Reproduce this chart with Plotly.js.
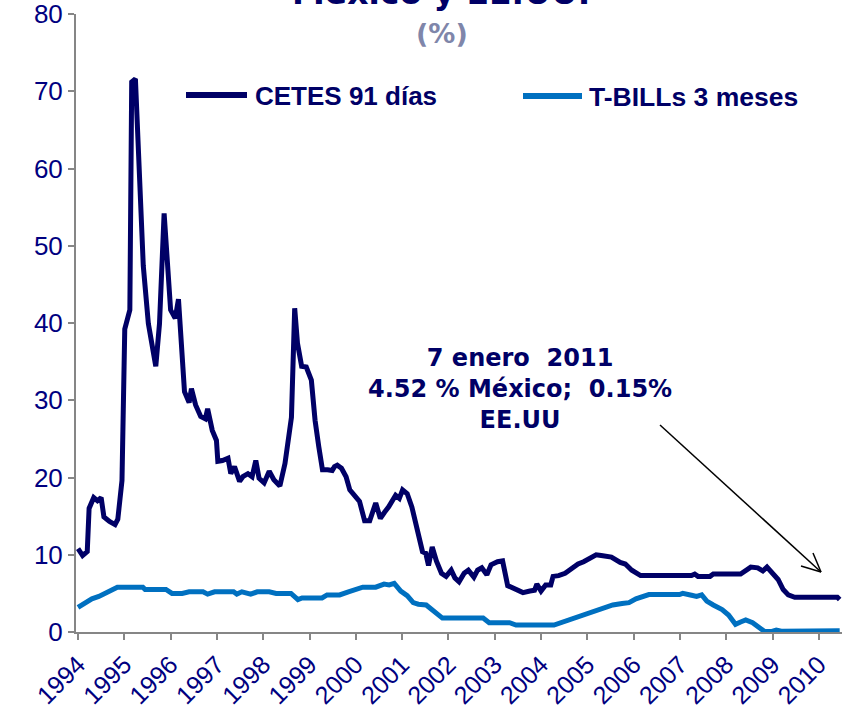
<!DOCTYPE html>
<html>
<head>
<meta charset="utf-8">
<script src="https://cdn.plot.ly/plotly-3.0.1.min.js"></script>
<style>html,body{margin:0;padding:0;background:#fff;}#chart{width:842px;height:712px;}</style>
</head>
<body>
<div id="chart"></div>
<script>
// Fechas en años decimales
const cetesX = [1994.00,1994.10,1994.20,1994.24,1994.34,1994.42,1994.50,1994.56,1994.68,1994.80,1994.86,1994.95,1995.01,1995.12,1995.16,1995.24,1995.41,1995.52,1995.68,1995.76,1995.86,1995.93,1996.00,1996.10,1996.17,1996.30,1996.40,1996.45,1996.54,1996.65,1996.75,1996.80,1996.90,1996.99,1997.02,1997.12,1997.24,1997.30,1997.38,1997.49,1997.56,1997.67,1997.76,1997.84,1997.91,1998.02,1998.13,1998.23,1998.36,1998.47,1998.56,1998.61,1998.68,1998.74,1998.83,1998.93,1999.04,1999.12,1999.20,1999.28,1999.39,1999.49,1999.54,1999.60,1999.69,1999.79,1999.87,1999.99,2000.08,2000.19,2000.30,2000.43,2000.53,2000.62,2000.71,2000.86,2000.94,2001.01,2001.11,2001.21,2001.35,2001.44,2001.51,2001.57,2001.65,2001.74,2001.85,2001.95,2002.06,2002.14,2002.23,2002.34,2002.43,2002.55,2002.63,2002.72,2002.83,2002.92,2003.06,2003.17,2003.28,2003.46,2003.61,2003.76,2003.86,2003.91,2004.00,2004.10,2004.21,2004.26,2004.38,2004.52,2004.66,2004.80,2004.92,2005.06,2005.19,2005.30,2005.52,2005.71,2005.82,2005.96,2006.15,2006.62,2007.25,2007.32,2007.39,2007.65,2007.72,2008.31,2008.42,2008.53,2008.68,2008.79,2008.88,2008.98,2009.12,2009.23,2009.34,2009.48,2010.40,2010.45];
const cetesY = [10.8,9.9,10.4,16.0,17.4,17.0,17.4,14.9,14.3,13.9,14.6,19.6,39.2,41.7,71.2,71.6,47.4,39.9,34.4,39.9,54.2,47.9,41.7,40.6,43.1,31.1,29.7,31.5,29.4,27.9,27.6,28.9,26.1,24.8,22.1,22.2,22.5,20.5,21.4,19.5,20.1,20.5,20.1,22.2,19.9,19.3,20.8,19.7,18.9,21.8,25.2,27.8,41.9,37.4,34.4,34.3,32.6,27.4,24.0,21.0,21.0,20.9,21.4,21.6,21.2,20.1,18.4,17.5,16.9,14.4,14.4,16.7,14.7,15.5,16.2,17.7,17.3,18.4,17.9,16.2,12.3,10.4,10.2,8.6,11.0,9.2,7.6,7.2,8.0,7.0,6.5,7.6,8.0,7.1,8.0,8.3,7.4,8.7,9.1,9.2,6.0,5.5,5.1,5.3,5.4,6.2,5.3,6.1,6.1,7.2,7.3,7.6,8.2,8.8,9.1,9.5,10.0,9.9,9.7,9.0,8.8,8.0,7.3,7.3,7.3,7.5,7.2,7.2,7.5,7.5,7.9,8.4,8.3,7.9,8.4,7.7,6.8,5.5,4.8,4.5,4.5,4.2];

const tbillX = [1994.00,1994.15,1994.30,1994.45,1994.57,1994.72,1994.85,1995.40,1995.45,1995.90,1996.03,1996.25,1996.40,1996.70,1996.80,1996.95,1997.36,1997.43,1997.54,1997.73,1997.87,1998.13,1998.28,1998.60,1998.69,1998.75,1998.84,1999.27,1999.38,1999.65,1999.84,2000.02,2000.15,2000.43,2000.61,2000.72,2000.83,2000.97,2001.11,2001.24,2001.35,2001.52,2001.70,2001.87,2002.75,2002.88,2003.32,2003.46,2004.28,2004.45,2004.66,2004.88,2005.10,2005.35,2005.55,2005.75,2005.90,2006.05,2006.20,2006.33,2006.99,2007.06,2007.25,2007.36,2007.47,2007.58,2007.72,2007.91,2008.05,2008.13,2008.20,2008.31,2008.42,2008.57,2008.68,2008.83,2008.97,2009.08,2009.19,2010.45];
const tbillY = [3.2,3.8,4.3,4.6,5.0,5.4,5.8,5.8,5.5,5.5,5.0,5.0,5.2,5.2,4.9,5.2,5.2,4.9,5.2,4.9,5.2,5.2,5.0,5.0,4.6,4.2,4.4,4.4,4.8,4.8,5.2,5.6,5.8,5.8,6.2,6.1,6.3,5.3,4.7,3.8,3.6,3.5,2.6,1.8,1.8,1.2,1.2,0.9,0.9,1.25,1.6,2.1,2.6,3.1,3.5,3.7,3.8,4.3,4.6,4.85,4.85,5.0,4.75,4.6,4.8,4.0,3.5,2.9,2.2,1.55,1.0,1.3,1.55,1.2,0.65,0.05,0.05,0.25,0.1,0.15];

const years = [1994,1995,1996,1997,1998,1999,2000,2001,2002,2003,2004,2005,2006,2007,2008,2009,2010];
const yearLabels = years.map(String);
const seriesNames = ['CETES 91 días', 'T-BILLs 3 meses'];

const NAVY = '#000066';
const BLUE = '#0070C0';
const GRAY = '#868686';
const TICKC = '#000080';
const ARIAL = 'Liberation Sans, Arial, sans-serif';
const WIDE = 'DejaVu Sans, sans-serif';

const traces = [
  {x: cetesX, y: cetesY, type: 'scatter', mode: 'lines', name: seriesNames[0],
   line: {color: NAVY, width: 5}},
  {x: tbillX, y: tbillY, type: 'scatter', mode: 'lines', name: seriesNames[1],
   line: {color: BLUE, width: 5}}
];

// plot area: x 76..842, y 14..632
const L = 76, T = 14, W = 766, H = 618;
const px = v => (v - L) / W;
const py = v => 1 - (v - T) / H;

// arrow (pixel positions of the note pointer)
const tail = [660, 425], tip = [821, 572];
const arm1 = [801, 566], arm2 = [813, 553];
const seg = (a, b) => ({type: 'line', xref: 'paper', yref: 'paper',
  x0: px(a[0]), y0: py(a[1]), x1: px(b[0]), y1: py(b[1]), line: {color: '#000', width: 1.5}});

const layout = {
  width: 842, height: 712,
  margin: {l: L, r: 0, t: T, b: 712 - T - H},
  paper_bgcolor: '#fff', plot_bgcolor: '#fff',
  showlegend: false,
  xaxis: {range: [1993.957, 2010.5], tickvals: years, ticktext: yearLabels,
    tickangle: -45, ticks: 'outside', ticklen: 6, tickwidth: 2, tickcolor: GRAY,
    showline: true, linecolor: GRAY, linewidth: 2, showgrid: false, zeroline: false,
    layer: 'below traces', ticklabeloverflow: 'allow',
    tickfont: {family: ARIAL, size: 25, color: TICKC}},
  yaxis: {range: [0, 80], dtick: 10, ticks: 'outside', ticklen: 6, tickwidth: 2, tickcolor: GRAY,
    showline: true, linecolor: GRAY, linewidth: 2, showgrid: false, zeroline: false,
    layer: 'below traces', ticklabeloverflow: 'allow',
    tickfont: {family: ARIAL, size: 26, color: TICKC}},
  shapes: [
    {type: 'line', xref: 'paper', yref: 'paper', x0: px(186), x1: px(247), y0: py(95), y1: py(95),
     line: {color: NAVY, width: 6}},
    {type: 'line', xref: 'paper', yref: 'paper', x0: px(523), x1: px(582), y0: py(96), y1: py(96),
     line: {color: BLUE, width: 6}},
    seg(tail, tip), seg(arm1, tip), seg(arm2, tip)
  ],
  annotations: [
    {xref: 'paper', yref: 'paper', x: px(441), y: 1.034, xanchor: 'center', yanchor: 'middle',
     text: '<b>México y EE.UU.</b>', showarrow: false,
     font: {family: WIDE, size: 33, color: NAVY}},
    {xref: 'paper', yref: 'paper', x: px(442), y: py(34), xanchor: 'center', yanchor: 'middle',
     text: '<b>(%)</b>', showarrow: false,
     font: {family: WIDE, size: 27, color: '#7F86AA'}},
    {xref: 'paper', yref: 'paper', x: px(253), y: py(96), xanchor: 'left', yanchor: 'middle',
     text: '<b>' + seriesNames[0] + '</b>', showarrow: false,
     font: {family: ARIAL, size: 26, color: NAVY}},
    {xref: 'paper', yref: 'paper', x: px(587), y: py(97), xanchor: 'left', yanchor: 'middle',
     text: '<b>' + seriesNames[1] + '</b>', showarrow: false,
     font: {family: ARIAL, size: 26.5, color: NAVY}},
    {xref: 'paper', yref: 'paper', x: px(520), y: py(389), xanchor: 'center', yanchor: 'middle',
     text: '<b>7 enero\u00a0 2011<br>4.52 % México;\u00a0 0.15%<br>EE.UU</b>', showarrow: false,
     align: 'center',
     font: {family: WIDE, size: 24, color: NAVY}}
  ]
};

Plotly.newPlot('chart', traces, layout, {displayModeBar: false, staticPlot: true});
</script>
</body>
</html>
